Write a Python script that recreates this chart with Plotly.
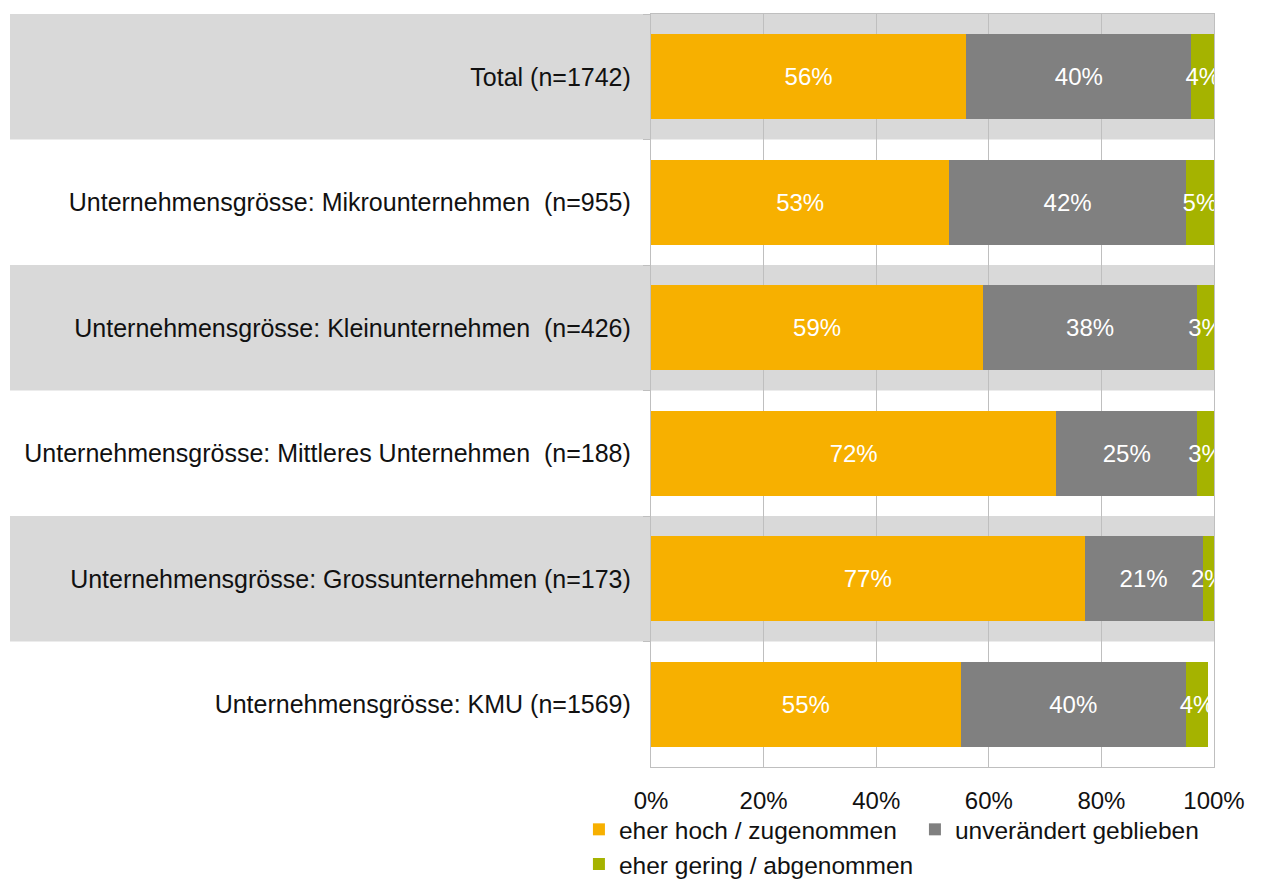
import plotly.graph_objects as go

categories = [
    "Total (n=1742)",
    "Unternehmensgrösse: Mikrounternehmen\u00a0 (n=955)",
    "Unternehmensgrösse: Kleinunternehmen\u00a0 (n=426)",
    "Unternehmensgrösse: Mittleres Unternehmen\u00a0 (n=188)",
    "Unternehmensgrösse: Grossunternehmen (n=173)",
    "Unternehmensgrösse: KMU (n=1569)",
]
hoch = [56, 53, 59, 72, 77, 55]
unveraendert = [40, 42, 38, 25, 21, 40]
gering = [4, 5, 3, 3, 2, 4]

series = [
    ("eher hoch / zugenommen", hoch, "#F7B000", "legend"),
    ("unverändert geblieben", unveraendert, "#808080", "legend"),
    ("eher gering / abgenommen", gering, "#A5B300", "legend2"),
]

fig = go.Figure()

for name, vals, color, leg in series:
    fig.add_trace(go.Bar(
        y=categories,
        x=[v / 100 for v in vals],
        name=name,
        orientation="h",
        marker=dict(color=color, line=dict(width=0)),
        text=[f"{v}%" for v in vals],
        textposition="inside",
        insidetextanchor="middle",
        textangle=0,
        textfont=dict(color="white", size=24),
        constraintext="none",
        cliponaxis=False,
        legend=leg,
    ))

# alternating grey bands behind rows (incl. label area)
for i in range(0, len(categories), 2):
    fig.add_shape(
        type="rect", xref="paper", yref="y",
        x0=-641 / 563, x1=1, y0=i - 0.5, y1=i + 0.5,
        fillcolor="#D9D9D9", line=dict(width=0), layer="below",
    )

fig.update_layout(
    width=1262, height=882,
    barmode="stack",
    bargap=0.32,
    margin=dict(l=651, r=48, t=14, b=115, autoexpand=False),
    plot_bgcolor="rgba(0,0,0,0)",
    paper_bgcolor="white",
    font=dict(family="Liberation Sans, Arial, sans-serif", size=25, color="#111111"),
    uniformtext=dict(minsize=24, mode="show"),
    xaxis=dict(
        range=[0, 1], tickvals=[0, 0.2, 0.4, 0.6, 0.8, 1.0],
        tickformat=".0%", showgrid=True, gridcolor="#BFBFBF", gridwidth=1.3,
        showline=True, linecolor="#BFBFBF", linewidth=1.3, mirror=True,
        zeroline=False, ticks="", tickfont=dict(size=24), ticklabelstandoff=12,
        layer="below traces",
    ),
    yaxis=dict(
        autorange="reversed", showgrid=False,
        showline=True, linecolor="#BFBFBF", linewidth=1.3, mirror=True,
        ticks="outside", ticklen=7, tickcolor="#BFBFBF", tickwidth=1.3,
        tickson="boundaries", tickfont=dict(size=25), ticklabelstandoff=14,
    ),
    legend=dict(
        orientation="h", x=-0.128, xanchor="left", y=-0.053, yanchor="top",
        traceorder="normal", entrywidth=291, entrywidthmode="pixels",
        font=dict(size=24.5), itemwidth=30, bgcolor="rgba(0,0,0,0)",
    ),
    legend2=dict(
        orientation="h", x=-0.128, xanchor="left", y=-0.099, yanchor="top",
        font=dict(size=24.5), itemwidth=30, bgcolor="rgba(0,0,0,0)",
    ),
)

fig.write_html("out.html", config={"displayModeBar": False},
               post_script="document.body.style.margin='0';")
